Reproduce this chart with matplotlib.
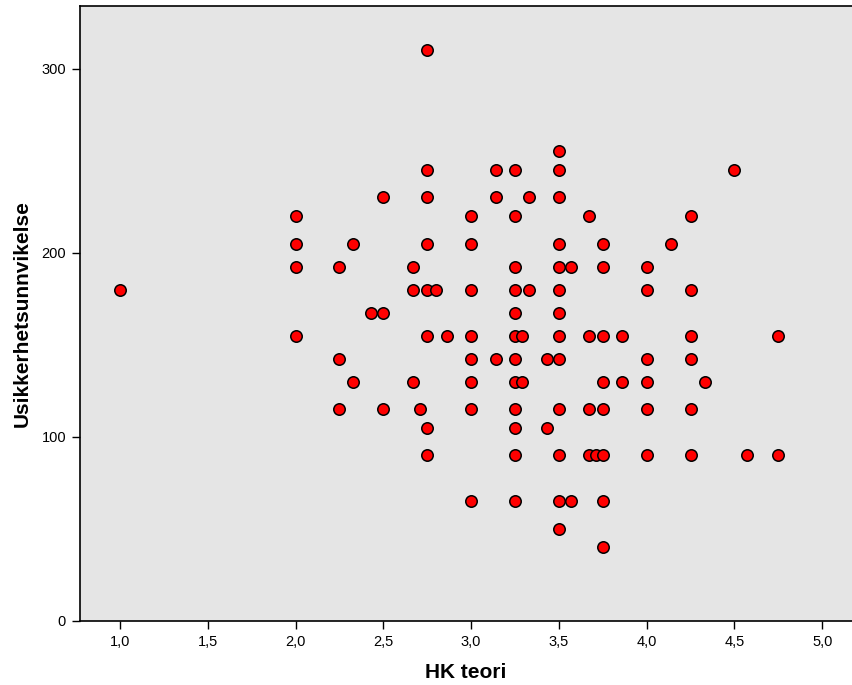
import numpy as np
import matplotlib
matplotlib.use("Agg")
import matplotlib.pyplot as plt
from matplotlib.ticker import FuncFormatter

plt.rcParams['font.family'] = ['Liberation Sans', 'DejaVu Sans']

# each row: y value and the HK teori values seen at that level
rows = {
    310: [2.75],
    255: [3.5],
    245: [2.75, 3.14, 3.25, 3.5, 4.5],
    230: [2.5, 2.75, 3.14, 3.33, 3.5],
    220: [2.0, 3.0, 3.25, 3.67, 4.25],
    205: [2.0, 2.33, 2.75, 3.0, 3.5, 3.75, 4.14],
    192.5: [2.0, 2.25, 2.67, 3.25, 3.5, 3.57, 3.75, 4.0],
    180: [1.0, 2.67, 2.75, 2.8, 3.0, 3.25, 3.33, 3.5, 4.0, 4.25],
    167.5: [2.43, 2.5, 3.25, 3.5],
    155: [2.0, 2.75, 2.86, 3.0, 3.25, 3.29, 3.5, 3.67, 3.75, 3.86, 4.25, 4.75],
    142.5: [2.25, 3.0, 3.14, 3.25, 3.43, 3.5, 4.0, 4.25],
    130: [2.33, 2.67, 3.0, 3.25, 3.29, 3.75, 3.86, 4.0, 4.33],
    115: [2.25, 2.5, 2.71, 3.0, 3.25, 3.5, 3.67, 3.75, 4.0, 4.25],
    105: [2.75, 3.25, 3.43],
    90: [2.75, 3.25, 3.5, 3.67, 3.71, 3.75, 4.0, 4.25, 4.57, 4.75],
    65: [3.0, 3.25, 3.5, 3.57, 3.75],
    50: [3.5],
    40: [3.75],
}

hk = []
usikk = []
for yv, xs in rows.items():
    for xv in xs:
        hk.append(xv)
        usikk.append(yv)
hk = np.array(hk)
usikk = np.array(usikk)

fig = plt.figure(figsize=(8.52, 6.85), dpi=100)
ax = fig.add_axes([80 / 852, 64 / 685, 772 / 852, 615 / 685])
ax.set_facecolor('#e5e5e5')

ax.scatter(hk, usikk, s=68, c='#ff0000', edgecolors='black', linewidths=1.1, zorder=3)

ax.set_xlim(0.772, 5.17)
ax.set_ylim(0, 334)
ax.set_xticks(np.arange(1.0, 5.01, 0.5))
ax.set_yticks([0, 100, 200, 300])
ax.xaxis.set_major_formatter(FuncFormatter(lambda v, p: ('%.1f' % v).replace('.', ',')))

ax.spines['right'].set_visible(False)
for s in ['left', 'bottom', 'top']:
    ax.spines[s].set_linewidth(1.2)
ax.tick_params(axis='both', direction='out', length=6, width=1, labelsize=10.5, colors='black')
ax.tick_params(axis='x', pad=4)
ax.tick_params(axis='y', pad=4)

ax.set_xlabel('HK teori', fontsize=15, fontweight='bold', labelpad=10)
ax.set_ylabel('Usikkerhetsunnvikelse', fontsize=15, fontweight='bold', labelpad=7)

fig.savefig('out.png', dpi=100)
